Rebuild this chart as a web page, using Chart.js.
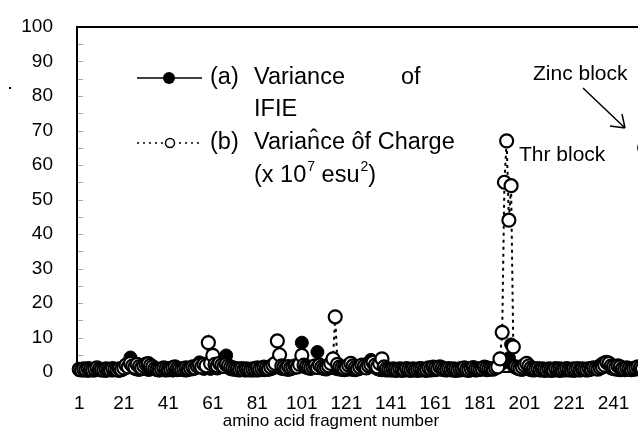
<!DOCTYPE html>
<html>
<head>
<meta charset="utf-8">
<script src="https://cdn.jsdelivr.net/npm/chart.js@4"></script>
<style>
  html, body { margin: 0; padding: 0; background: #fff; overflow: hidden; }
  canvas { display: block; }
</style>
</head>
<body>
<canvas id="myChart" width="699" height="436"></canvas>
<script>
// fragment numbers start at 1, one value per fragment
const ifieVar = [
  0.5,0.8,0.4,0.6,0.3,0.7,0.5,0.4,0.9,0.6,0.4,0.5,0.3,0.6,0.5,0.4,0.7,0.5,0.3,0.6,
  0.8,1.2,1.5,4.2,1.3,0.9,0.7,0.6,0.8,1.1,0.9,0.6,0.7,1.0,0.8,0.5,0.4,0.6,0.5,0.4,
  0.5,0.6,0.4,0.7,0.5,0.6,0.8,0.5,0.4,0.6,0.7,0.8,1.0,1.4,2.8,1.2,0.9,1.5,1.1,0.9,
  1.2,1.5,1.0,1.3,1.8,2.0,4.8,1.2,0.8,0.7,0.6,0.5,0.4,0.6,0.5,0.4,0.5,0.6,0.4,0.5,
  0.4,0.5,0.6,0.5,0.7,0.6,0.8,1.0,1.5,1.8,1.2,0.9,0.8,0.7,0.6,0.8,1.0,1.2,1.5,2.0,
  8.5,1.5,1.2,1.0,0.9,1.3,1.8,5.8,1.5,1.0,0.8,0.7,1.0,1.2,1.5,1.0,0.8,0.7,0.6,0.5,
  0.6,0.8,0.7,0.6,0.5,0.7,0.9,1.2,1.5,2.0,2.6,3.5,1.8,1.2,0.8,0.6,0.5,0.6,0.4,0.5,
  0.4,0.5,0.3,0.4,0.5,0.3,0.4,0.5,0.4,0.3,0.5,0.4,0.3,0.4,0.5,0.4,0.3,0.5,0.4,0.6,
  0.5,0.7,0.8,0.6,0.5,0.4,0.6,0.5,0.4,0.3,0.5,0.4,0.6,0.5,0.4,0.3,0.5,0.6,0.4,0.5,
  0.6,0.8,0.7,0.5,0.6,0.8,1.0,1.2,1.5,2.0,2.5,3.0,3.2,4.0,8.0,1.8,1.2,0.9,0.7,0.6,
  0.8,1.0,0.7,0.5,0.4,0.5,0.6,0.4,0.5,0.3,0.4,0.5,0.3,0.4,0.5,0.4,0.3,0.5,0.4,0.5,
  0.4,0.5,0.3,0.4,0.5,0.4,0.6,0.5,0.4,0.5,0.7,0.9,1.2,1.5,2.0,2.5,2.8,2.2,1.5,1.0,
  0.8,0.7,0.6,0.5,0.6,0.5,0.7,0.6,0.5,0.6,0.8,0.7,0.9,1.2,3.0,2.0
];
const chargeVar = [
  0.8,0.6,0.9,0.7,1.0,0.8,0.6,0.9,1.2,0.8,0.7,0.6,0.9,0.8,0.7,1.0,0.8,0.6,0.9,0.7,
  1.2,2.0,1.5,2.5,1.8,1.4,2.2,1.6,1.2,1.8,2.3,2.4,1.9,1.5,1.0,0.8,0.7,0.9,1.2,1.0,
  0.8,1.0,1.3,1.5,1.1,0.9,0.8,1.0,1.2,0.9,1.1,1.5,1.2,1.8,2.0,1.5,2.2,1.8,8.5,2.5,
  4.8,2.2,1.8,2.5,2.0,1.6,2.2,1.8,1.4,1.2,1.0,0.9,0.8,1.0,0.7,0.9,0.8,0.6,0.9,1.0,
  1.2,0.9,1.1,1.4,1.2,1.0,1.5,2.0,2.5,9.0,5.0,1.8,1.5,1.2,1.6,1.2,1.4,1.8,1.5,2.2,
  4.8,2.0,1.6,1.4,1.2,1.5,1.8,1.3,2.0,1.5,1.2,1.4,1.8,2.5,3.8,16.0,2.2,1.5,1.2,1.0,
  1.4,2.0,2.5,1.8,1.3,1.0,1.5,2.0,1.6,1.2,1.8,2.2,2.8,2.0,1.5,2.5,3.8,1.5,1.0,0.8,
  0.7,0.9,0.8,0.6,0.9,0.8,0.7,1.0,0.8,0.6,0.9,0.7,0.8,1.0,0.9,0.7,0.8,1.2,1.0,1.4,
  1.2,1.0,1.5,1.2,0.9,0.8,1.0,0.7,0.9,0.8,0.6,0.9,1.0,1.2,0.8,0.7,1.0,1.3,1.0,0.9,
  0.8,1.0,1.4,1.2,1.0,0.9,0.8,1.2,1.5,3.8,11.5,55.0,67.0,44.0,54.0,7.3,1.5,1.2,1.0,1.5,
  2.0,2.5,1.8,1.2,0.9,0.8,1.0,0.7,0.9,0.8,0.6,0.9,0.8,0.7,1.0,0.8,0.9,0.7,0.8,1.0,
  0.8,0.7,0.9,0.8,1.0,0.7,0.9,0.8,0.7,1.0,0.9,1.2,1.0,0.8,1.2,1.5,2.0,2.8,2.5,1.8,
  1.5,1.2,1.8,1.5,1.0,0.9,1.2,1.0,0.8,1.0,1.2,1.5,1.2,1.0,65.0,30.0
];
const xTicks = [1, 21, 41, 61, 81, 101, 121, 141, 161, 181, 201, 221, 241, 261];
const yTicks = [0, 10, 20, 30, 40, 50, 60, 70, 80, 90, 100];
const xTitle = 'amino acid fragment number';

const FONT = '"Liberation Sans", Arial, sans-serif';

function toPoints(arr) {
  return arr.map((v, i) => ({ x: i + 1, y: v }));
}

// frame, inner minor ticks, legend, notes
const extras = {
  id: 'extras',
  afterDraw(chart) {
    const ctx = chart.ctx;
    const a = chart.chartArea;
    const ys = chart.scales.y;
    ctx.save();
    // top frame line
    ctx.strokeStyle = '#000';
    ctx.lineWidth = 2;
    ctx.beginPath();
    ctx.moveTo(a.left - 1, a.top);
    ctx.lineTo(a.right, a.top);
    ctx.stroke();
    // small grey ticks every 5 inside the frame
    ctx.strokeStyle = '#aaa';
    ctx.lineWidth = 1;
    for (let v = 5; v < 100; v += 5) {
      const py = Math.round(ys.getPixelForValue(v)) + 0.5;
      ctx.beginPath();
      ctx.moveTo(a.left + 1, py);
      ctx.lineTo(a.left + 6, py);
      ctx.stroke();
    }
    // stray speck left of the axis
    ctx.fillStyle = '#000';
    ctx.fillRect(9, 87, 2, 2);

    // legend
    ctx.strokeStyle = '#000';
    ctx.textBaseline = 'middle';
    ctx.textAlign = 'left';
    ctx.font = '23.5px ' + FONT;
    ctx.lineWidth = 1.5;
    ctx.beginPath();
    ctx.moveTo(137, 78); ctx.lineTo(202, 78);
    ctx.stroke();
    ctx.beginPath();
    ctx.arc(169, 78, 6, 0, Math.PI * 2);
    ctx.fill();
    ctx.fillText('(a)', 210, 78);
    ctx.fillText('Variance', 254, 78);
    ctx.fillText('of', 401, 78);
    ctx.fillText('IFIE', 254, 110);

    ctx.setLineDash([2, 4]);
    ctx.lineWidth = 1.5;
    ctx.beginPath();
    ctx.moveTo(137, 143); ctx.lineTo(202, 143);
    ctx.stroke();
    ctx.setLineDash([]);
    ctx.fillStyle = '#fff';
    ctx.beginPath();
    ctx.arc(170, 143, 4.5, 0, Math.PI * 2);
    ctx.fill();
    ctx.stroke();
    ctx.fillStyle = '#000';
    ctx.fillText('(b)', 210, 143);
    ctx.fillText('Varian\u0302ce o\u0302f Charge', 254, 143);

    let x = 254;
    const y4 = 176;
    ctx.fillText('(x 10', x, y4); x += ctx.measureText('(x 10').width;
    ctx.font = '14px ' + FONT;
    ctx.fillText('7', x + 1, y4 - 9); x += ctx.measureText('7').width + 1;
    ctx.font = '23.5px ' + FONT;
    ctx.fillText(' esu', x, y4); x += ctx.measureText(' esu').width;
    ctx.font = '14px ' + FONT;
    ctx.fillText('2', x + 1, y4 - 9); x += ctx.measureText('2').width + 1;
    ctx.font = '23.5px ' + FONT;
    ctx.fillText(')', x, y4);

    // block notes
    ctx.font = '21px ' + FONT;
    ctx.fillText('Zinc block', 533, 74);
    ctx.fillText('Thr block', 519, 155);
    ctx.lineWidth = 1.5;
    ctx.beginPath();
    ctx.moveTo(583, 88); ctx.lineTo(625, 128);
    ctx.moveTo(625, 128); ctx.lineTo(610, 126);
    ctx.moveTo(625, 128); ctx.lineTo(622, 114);
    ctx.stroke();

    // x axis title
    ctx.font = '17px ' + FONT;
    ctx.textAlign = 'center';
    ctx.fillText(xTitle, 331, 421);
    ctx.restore();
  }
};

const ctx = document.getElementById('myChart').getContext('2d');
new Chart(ctx, {
  type: 'line',
  data: {
    datasets: [{
      label: '(a) Variance of IFIE',
      data: toPoints(ifieVar),
      borderColor: '#000',
      borderWidth: 1.5,
      backgroundColor: '#000',
      pointBackgroundColor: '#000',
      pointBorderColor: '#000',
      pointRadius: 6.5,
      pointBorderWidth: 1,
      tension: 0,
      clip: false,
      order: 1
    }, {
      label: '(b) Variance of Charge',
      data: toPoints(chargeVar),
      borderColor: '#000',
      borderWidth: 2,
      borderDash: [3, 4],
      pointBackgroundColor: '#fff',
      pointBorderColor: '#000',
      pointRadius: 6.5,
      pointBorderWidth: 2.2,
      tension: 0,
      clip: false,
      order: 0
    }]
  },
  options: {
    responsive: false,
    devicePixelRatio: 1,
    animation: false,
    layout: { padding: { left: 0, top: 27, right: 0, bottom: 0 } },
    plugins: {
      legend: { display: false },
      tooltip: { enabled: false }
    },
    scales: {
      x: {
        type: 'linear',
        min: 0,
        max: 275.5,
        afterBuildTicks: (s) => { s.ticks = xTicks.map(v => ({ value: v })); },
        afterFit: (s) => { s.height = 64; },
        grid: { display: false },
        border: { display: true, color: '#000', width: 2 },
        ticks: {
          autoSkip: false,
          maxRotation: 0,
          padding: 12,
          color: '#000',
          font: { family: FONT, size: 19 }
        }
      },
      y: {
        min: 0,
        max: 100,
        afterBuildTicks: (s) => { s.ticks = yTicks.map(v => ({ value: v })); },
        afterFit: (s) => { s.width = 77; },
        grid: {
          display: true,
          drawOnChartArea: false,
          drawTicks: true,
          tickLength: 24,
          tickColor: 'rgba(0,0,0,0)'
        },
        border: { display: true, color: '#000', width: 2 },
        ticks: {
          padding: 0,
          color: '#000',
          font: { family: FONT, size: 19 }
        }
      }
    }
  },
  plugins: [extras]
});
</script>
</body>
</html>
